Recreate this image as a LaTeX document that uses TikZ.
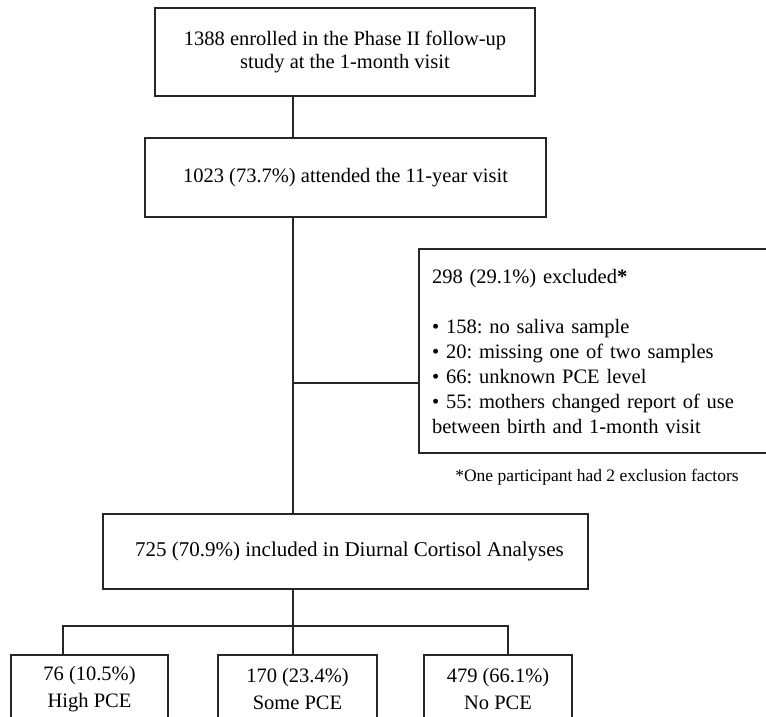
\documentclass[tikz,border=0pt]{standalone}
\usepackage{fontspec}
\setmainfont{Liberation Serif}
\frenchspacing
\begin{document}
\begin{tikzpicture}[x=1pt,y=-1pt,
  every node/.style={inner sep=0pt, outer sep=0pt},
  box/.style={draw=black!85, line width=1.3pt, rectangle, align=center, font=\fontsize{20.5}{23}\selectfont},
  link/.style={draw=black!85, line width=1.3pt}]
\useasboundingbox (0,0) rectangle (766,717);
\clip (0,0) rectangle (766,717);
\fill[white] (0,0) rectangle (766,717);
\node[box, minimum width=380pt, minimum height=88pt] (b1) at (345,52)
  {1388 enrolled in the Phase II follow-up\\study at the 1-month visit};
\node[box, minimum width=401pt, minimum height=79pt] (b2) at (345.5,177.5)
  {1023 (73.7\%) attended the 11-year visit};
\node[box, anchor=north west, minimum width=361pt, minimum height=204pt, align=left,
  text width=335pt, inner xsep=13pt, font=\fontsize{20.5}{25}\selectfont] (b3) at (419,249)
  {298 (29.1\%) excluded\textbf{*}\\[25pt]
   • 158: no saliva sample\\
   • 20: missing one of two samples\\
   • 66: unknown PCE level\\
   • 55: mothers changed report of use\\
   between birth and 1-month visit};
\node[font=\fontsize{17.5}{20}\selectfont] (fn) at (597,477) {*One participant had 2 exclusion factors};
\node[box, minimum width=485pt, minimum height=75pt, font=\fontsize{21}{23}\selectfont] (b4) at (345.5,551.5)
  {\hspace*{8pt}725 (70.9\%) included in Diurnal Cortisol Analyses};
\node[box, anchor=north, minimum width=157pt, minimum height=68pt, font=\fontsize{20.5}{27}\selectfont] (ba) at (89.5,655)
  {76 (10.5\%)\\High PCE};
\node[box, anchor=north, minimum width=159pt, minimum height=68pt, font=\fontsize{20.5}{27}\selectfont] (bb) at (297.5,655)
  {170 (23.4\%)\\Some PCE};
\node[box, anchor=north, minimum width=148pt, minimum height=68pt, font=\fontsize{20.5}{27}\selectfont] (bc) at (498,655)
  {479 (66.1\%)\\No PCE};
\coordinate (tx) at (293,0);
\coordinate (j) at (293,383);
\coordinate (h) at (293,626);
\coordinate (ta) at (63,626);
\coordinate (tc) at (508,626);
\draw[link] (b1.south -| tx) -- (b2.north -| tx);
\draw[link] (b2.south -| tx) -- (b4.north -| tx);
\draw[link] (j) -- (j -| b3.west);
\draw[link] (b4.south -| tx) -- (h);
\draw[link] (ta |- ba.north) -- (ta) -- (tc) -- (tc |- bc.north);
\draw[link] (h) -- (h |- bb.north);
\end{tikzpicture}
\end{document}
